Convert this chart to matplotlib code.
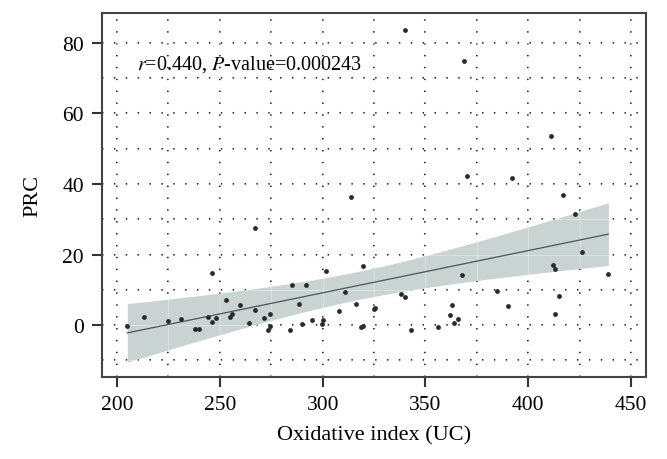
import numpy as np
import matplotlib
matplotlib.use("Agg")
import matplotlib.pyplot as plt

# ---- data ----
oxidative_index = [205, 213, 225, 231, 238, 240, 244, 246, 246, 248,
                   253, 255, 256, 260, 264, 267, 267, 271.5, 273.5, 274.5,
                   274.5, 284, 285, 288.5, 290, 292, 295, 299.5, 300, 301.5,
                   308, 311, 314, 316, 318.5, 319.5, 319.5, 325, 325.5, 338,
                   340, 340, 343, 356, 362, 363, 364, 366, 368, 369,
                   370, 385, 390, 392, 411, 412, 413, 413, 415, 417,
                   423, 426, 439]
prc = [-0.3, 2.4, 1.1, 1.7, -1.2, -1.2, 2.4, 14.7, 0.9, 1.9,
       7.2, 2.3, 3.2, 5.8, 0.6, 27.6, 4.3, 1.9, -1.3, -0.2,
       3.2, -1.3, 11.3, 5.9, 0.4, 11.4, 1.5, 0.2, 1.5, 15.3,
       4.0, 9.5, 36.4, 5.9, -0.4, -0.2, 16.8, 4.7, 4.9, 8.7,
       83.8, 7.9, -1.3, -0.4, 2.8, 5.7, 0.6, 1.7, 14.2, 74.9,
       42.2, 9.8, 5.5, 41.6, 53.7, 17.0, 15.9, 3.2, 8.3, 36.8,
       31.4, 20.6, 14.4]
stat_text = r"$r$=0.440, $P$-value=0.000243"

x = np.array(oxidative_index, dtype=float)
y = np.array(prc, dtype=float)

# linear fit with 95% confidence band
n = len(x)
slope, intercept = np.polyfit(x, y, 1)
xs = np.linspace(x.min(), x.max(), 100)
ys = intercept + slope * xs
resid = y - (intercept + slope * x)
s = np.sqrt(np.sum(resid ** 2) / (n - 2))
sxx = np.sum((x - x.mean()) ** 2)
se = s * np.sqrt(1.0 / n + (xs - x.mean()) ** 2 / sxx)
t = 2.0

plt.rcParams["font.family"] = ["Liberation Serif", "DejaVu Serif"]
plt.rcParams["mathtext.fontset"] = "stix"

fig = plt.figure(figsize=(6.67, 4.6), dpi=100)
ax = fig.add_axes([0.153, 0.178, 0.8155, 0.7916])

xgrid = np.arange(200, 451, 25)
ygrid = np.arange(-10, 81, 10)
dots = (0, (0.7, 5.0))
for gx in xgrid:
    ax.axvline(gx, color="#2a2a2a", lw=1.5, ls=dots, zorder=0)
for gy in ygrid:
    ax.axhline(gy, color="#2a2a2a", lw=1.5, ls=dots, zorder=0)

ax.fill_between(xs, ys - t * se, ys + t * se, color="#c9d3d1", lw=0, zorder=1)
# faint light grid that shows through the band
for gx in xgrid:
    ax.axvline(gx, color="white", lw=0.7, alpha=0.35, zorder=1.5)
for gy in ygrid:
    ax.axhline(gy, color="white", lw=0.7, alpha=0.35, zorder=1.5)

ax.plot(xs, ys, color="#4a5656", lw=0.9, zorder=2)
ax.scatter(x, y, s=12, color="#2a2a2a", lw=0, zorder=3)

ax.text(209.5, 74.3, stat_text, fontsize=14.5, va="center", ha="left")

ax.set_xlim(192.7, 457.3)
ax.set_ylim(-14.75, 88.5)
ax.set_xticks([200, 250, 300, 350, 400, 450])
ax.set_yticks([0, 20, 40, 60, 80])
ax.tick_params(direction="out", length=7, width=1.5, color="#333333",
               labelsize=15.5, pad=6)
for sp in ax.spines.values():
    sp.set_linewidth(1.5)
    sp.set_color("#444444")

ax.set_xlabel("Oxidative index (UC)", fontsize=16, labelpad=8)
ax.set_ylabel("PRC", fontsize=16, labelpad=14)

fig.savefig("out.png", dpi=100)
